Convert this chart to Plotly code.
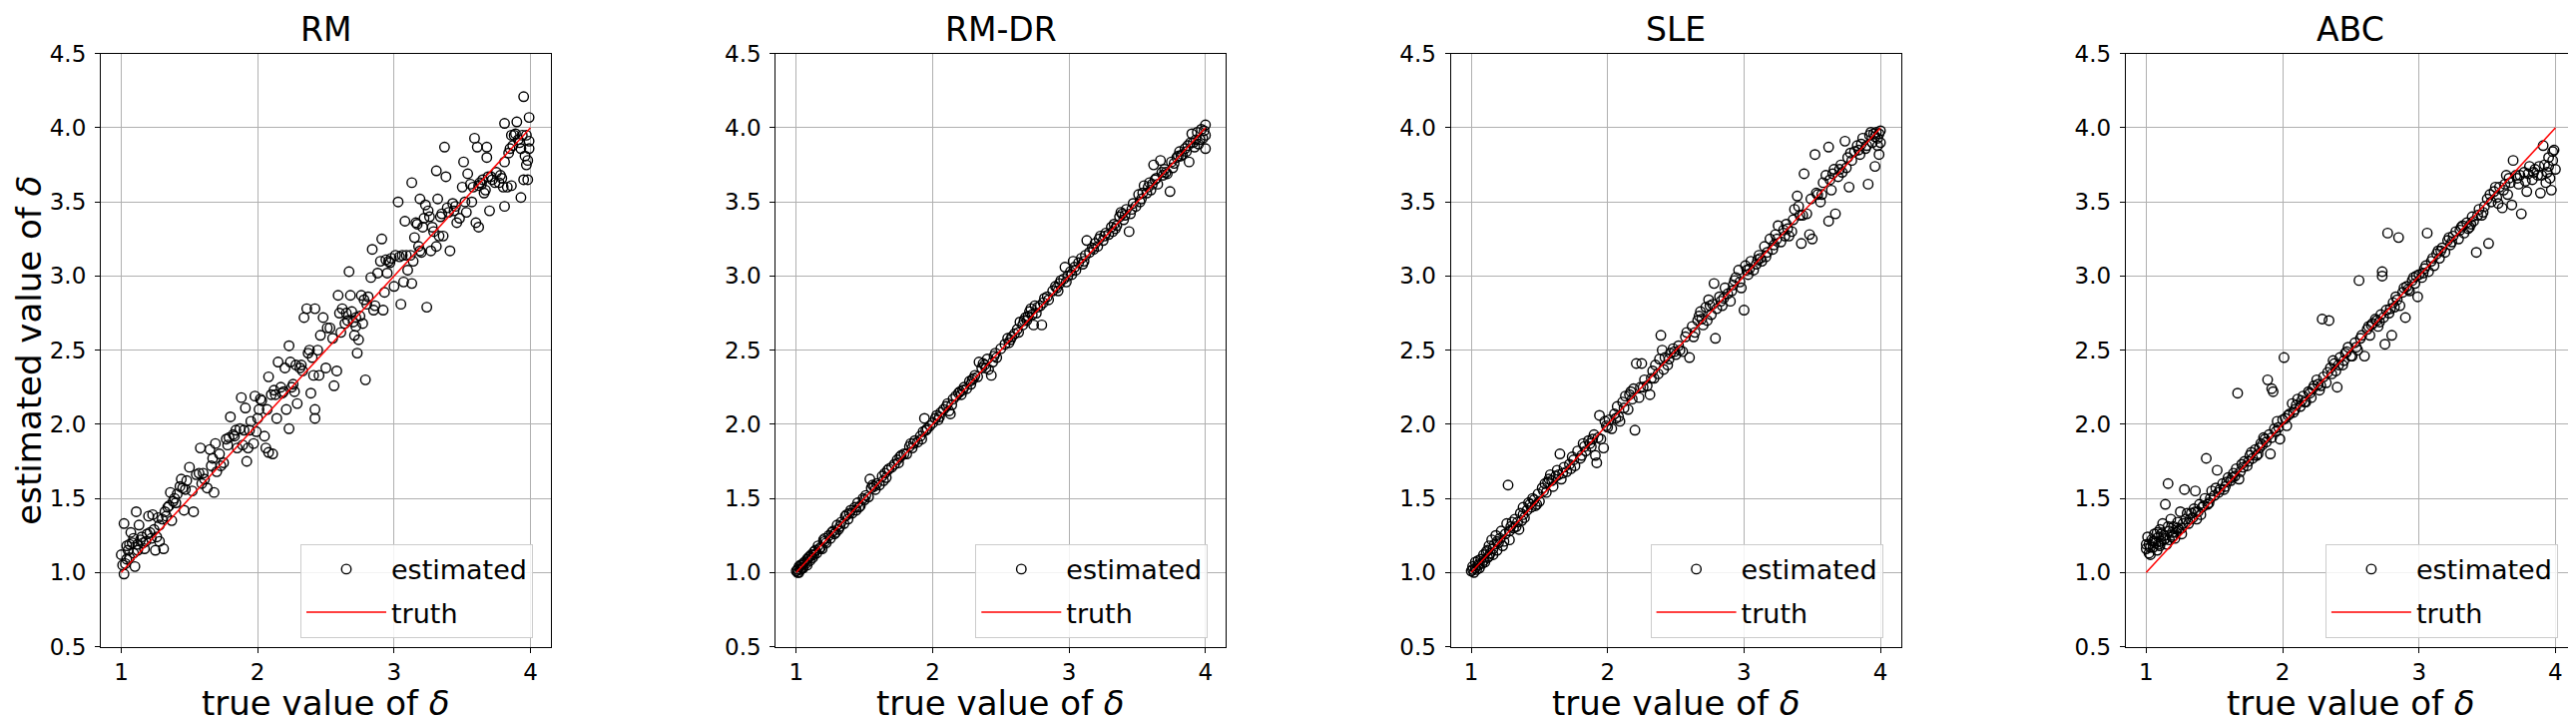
import plotly.graph_objects as go

titles = ["RM", "RM-DR", "SLE", "ABC"]
x_label = "true value of <i>δ</i>"
y_label = "estimated value of <i>δ</i>"
truth_x = [1.0, 4.0]
truth_y = [1.0, 4.0]
y_ticks = [0.5, 1.0, 1.5, 2.0, 2.5, 3.0, 3.5, 4.0, 4.5]
x_ticks = [1, 2, 3, 4]

rm_points = [
    (1.02,0.99),(1.02,1.33),(1.00,1.12),(1.04,1.18),(1.06,1.10),(1.11,1.41),(1.07,1.27),(1.10,1.04),
    (1.13,1.32),(1.14,1.22),(1.17,1.16),(1.19,1.26),(1.20,1.38),(1.23,1.39),(1.24,1.29),(1.25,1.15),
    (1.28,1.32),(1.28,1.21),(1.31,1.16),(1.32,1.41),(1.36,1.54),(1.37,1.35),(1.38,1.48),(1.41,1.53),
    (1.44,1.63),(1.46,1.42),(1.50,1.71),(1.47,1.56),(1.53,1.41),(1.55,1.66),(1.58,1.84),(1.59,1.60),
    (1.63,1.57),(1.65,1.83),(1.67,1.77),(1.68,1.54),(1.69,1.87),(1.70,1.68),(1.75,1.74),(1.77,1.90),
    (1.80,2.05),(1.82,1.93),(1.85,1.84),(1.88,2.18),(1.91,2.11),(1.92,1.75),(1.93,1.84),(1.95,2.02),
    (1.97,1.87),(1.98,2.19),(1.99,1.95),(2.01,2.10),(2.03,2.16),(2.05,1.92),(2.06,1.84),(2.08,1.81),
    (2.08,2.32),(2.11,1.80),(2.12,2.23),(2.14,2.04),(2.15,2.42),(2.18,2.21),(2.20,2.38),(2.21,2.10),
    (2.23,1.97),(2.23,2.53),(2.26,2.27),(2.29,2.14),(2.31,2.38),(2.33,2.36),(2.34,2.72),(2.36,2.78),
    (2.38,2.50),(2.39,2.21),(2.41,2.33),(2.42,2.78),(2.42,2.10),(2.42,2.04),(2.46,2.60),(2.50,2.38),
    (2.53,2.65),(2.56,2.26),(2.58,2.36),(2.59,2.87),(2.61,2.62),(2.62,2.78),(2.65,2.75),(2.67,3.03),
    (2.68,2.87),(2.70,2.69),(2.71,2.60),(2.73,2.48),(2.74,2.57),(2.76,2.87),(2.77,2.68),(2.79,2.30),
    (2.80,2.81),(2.83,2.99),(2.85,2.77),(2.86,2.80),(2.91,3.25),(2.84,3.18),(2.92,2.77),(2.93,2.89),
    (2.94,3.11),(2.95,3.02),(2.97,3.09),(3.00,2.93),(3.03,3.50),(3.04,3.13),(3.05,2.81),(3.07,2.96),
    (3.08,3.37),(3.10,3.04),(3.12,3.14),(3.13,3.63),(3.13,2.95),(3.15,3.26),(3.16,3.36),(3.19,3.52),
    (3.19,3.17),(3.21,3.33),(3.22,3.39),(3.24,2.79),(3.25,3.44),(3.27,3.17),(3.28,3.33),(3.31,3.71),
    (3.31,3.20),(3.32,3.52),(3.34,3.40),(3.36,3.27),(3.37,3.87),(3.38,3.67),(3.39,3.46),(3.41,3.17),
    (3.44,3.44),(3.46,3.36),(3.50,3.60),(3.51,3.77),(3.53,3.43),(3.54,3.69),(3.57,3.50),(3.59,3.93),
    (3.60,3.36),(3.61,3.87),(3.62,3.33),(3.62,3.61),(3.65,3.65),(3.66,3.56),(3.68,3.87),(3.68,3.80),
    (3.70,3.44),(3.72,3.65),(3.75,3.70),(3.77,3.63),(3.80,3.60),(3.81,3.47),(3.81,4.03),(3.81,3.77),
    (3.84,3.83),(3.86,3.95),(3.86,3.61),(3.89,3.96),(3.90,4.04),(3.91,3.92),(3.93,3.86),(3.93,3.53),
    (3.95,4.21),(3.95,3.65),(3.96,3.81),(3.97,3.75),(3.98,3.65),(3.99,4.07),(3.99,3.91),(3.99,3.86),
    (1.03,1.06),(1.05,1.15),(1.08,1.20),(1.09,1.13),(1.12,1.19),(1.15,1.24),(1.18,1.21),(1.21,1.27),
    (1.26,1.24),(1.30,1.36),(1.34,1.44),(1.40,1.47),(1.43,1.58),(1.48,1.62),(1.57,1.67),(1.61,1.63),
    (1.72,1.80),(1.78,1.86),(1.83,1.92),(1.87,1.97),(1.90,1.96),(2.00,2.04),(2.10,2.20),(2.17,2.25),
    (2.25,2.25),(2.28,2.40),(2.44,2.50),(2.48,2.72),(2.55,2.58),(2.64,2.68),(2.72,2.72),(2.78,2.84),
    (2.88,3.02),(2.98,3.12),(3.06,3.14),(3.18,3.20),(3.23,3.48),(3.35,3.42),(3.43,3.49),(3.48,3.39),
    (3.56,3.62),(3.64,3.62),(3.71,3.67),(3.78,3.68),(3.85,3.86),(3.88,3.95),(3.92,3.90),(3.97,3.95),
    (1.01,1.05),(1.04,1.09),(1.06,1.19),(1.09,1.23),(1.12,1.15),(1.16,1.20),(1.22,1.23),(1.27,1.37),
    (1.33,1.38),(1.35,1.45),(1.39,1.50),(1.45,1.57),(1.52,1.55),(1.60,1.67),(1.66,1.72),(1.73,1.72),
    (1.79,1.91),(1.84,1.96),(1.89,1.86),(1.94,1.96),(2.02,2.17),(2.07,2.10),(2.13,2.20),(2.19,2.22),
    (2.24,2.42),(2.27,2.22),(2.32,2.40),(2.37,2.48),(2.40,2.45),(2.45,2.33),(2.51,2.65),(2.60,2.75),
    (2.66,2.70),(2.69,2.76),(2.72,2.66),(2.75,2.73),(2.81,2.86),(2.90,3.10),(2.96,3.10),(3.01,3.14),
    (3.09,3.14),(3.14,3.10),(3.17,3.35),(3.20,3.16),(3.26,3.40),(3.29,3.30),(3.33,3.27),(3.40,3.43),
    (3.45,3.47),(3.52,3.50),(3.58,3.60),(3.63,3.63),(3.67,3.58),(3.69,3.67),(3.74,3.63),(3.79,3.66),
    (3.83,3.60),(3.87,3.88),(3.94,3.95),(3.98,3.78),
]

rmdr_points = [
    (1.00,1.01),(1.01,1.02),(1.02,1.00),(1.02,1.04),(1.03,1.02),(1.04,1.05),(1.05,1.03),(1.06,1.07),
    (1.07,1.06),(1.08,1.05),(1.09,1.10),(1.10,1.08),(1.11,1.12),(1.12,1.10),(1.14,1.15),(1.15,1.13),
    (1.16,1.18),(1.18,1.17),(1.19,1.16),(1.20,1.22),(1.22,1.20),(1.24,1.25),(1.25,1.23),(1.27,1.28),
    (1.28,1.26),(1.30,1.32),(1.31,1.29),(1.33,1.34),(1.35,1.33),(1.36,1.38),(1.38,1.36),(1.40,1.42),
    (1.41,1.40),(1.43,1.44),(1.45,1.47),(1.47,1.45),(1.49,1.50),(1.51,1.52),(1.53,1.51),(1.54,1.63),
    (1.55,1.57),(1.57,1.58),(1.59,1.60),(1.61,1.59),(1.63,1.65),(1.65,1.67),(1.66,1.64),(1.68,1.70),
    (1.70,1.71),(1.72,1.73),(1.75,1.74),(1.77,1.79),(1.79,1.80),(1.81,1.80),(1.83,1.85),(1.85,1.84),
    (1.87,1.89),(1.89,1.88),(1.91,1.92),(1.93,1.95),(1.94,2.04),(1.96,1.97),(1.98,1.99),(2.00,2.01),
    (2.02,2.04),(2.04,2.03),(2.06,2.08),(2.08,2.10),(2.10,2.12),(2.12,2.09),(2.13,2.07),(2.15,2.17),
    (2.17,2.19),(2.19,2.21),(2.21,2.20),(2.23,2.25),(2.25,2.24),(2.27,2.29),(2.29,2.30),(2.31,2.33),
    (2.33,2.32),(2.34,2.42),(2.36,2.38),(2.38,2.40),(2.40,2.44),(2.41,2.37),(2.43,2.33),(2.45,2.46),
    (2.47,2.45),(2.50,2.51),(2.53,2.54),(2.55,2.58),(2.58,2.59),(2.60,2.61),(2.62,2.64),(2.64,2.69),
    (2.66,2.67),(2.68,2.72),(2.70,2.73),(2.71,2.76),(2.73,2.74),(2.74,2.67),(2.75,2.80),(2.77,2.79),
    (2.79,2.80),(2.80,2.67),(2.82,2.85),(2.85,2.84),(2.88,2.90),(2.90,2.93),(2.92,2.90),(2.94,2.97),
    (2.96,2.98),(2.97,3.06),(2.99,3.00),(3.01,3.03),(3.03,3.10),(3.05,3.04),(3.07,3.09),(3.09,3.12),
    (3.11,3.10),(3.13,3.24),(3.15,3.16),(3.17,3.19),(3.19,3.22),(3.21,3.20),(3.23,3.27),(3.25,3.24),
    (3.27,3.29),(3.29,3.28),(3.31,3.33),(3.33,3.35),(3.35,3.34),(3.37,3.40),(3.38,3.43),(3.40,3.38),
    (3.42,3.45),(3.44,3.30),(3.45,3.42),(3.47,3.49),(3.49,3.47),(3.51,3.55),(3.53,3.52),(3.55,3.61),
    (3.57,3.56),(3.59,3.63),(3.60,3.58),(3.62,3.75),(3.63,3.65),(3.65,3.62),(3.67,3.78),(3.68,3.70),
    (3.70,3.72),(3.72,3.69),(3.74,3.57),(3.75,3.77),(3.77,3.76),(3.79,3.80),(3.81,3.84),(3.83,3.82),
    (3.85,3.86),(3.87,3.88),(3.88,3.77),(3.90,3.96),(3.91,3.90),(3.93,3.92),(3.94,3.97),(3.95,3.89),
    (3.97,3.99),(3.98,3.93),(4.00,4.02),(4.00,3.86),(4.00,3.95),
    (1.04,1.03),(1.13,1.14),(1.21,1.23),(1.29,1.27),(1.37,1.39),(1.46,1.44),(1.56,1.59),(1.64,1.62),
    (1.74,1.76),(1.84,1.87),(1.92,1.90),(2.03,2.06),(2.11,2.14),(2.20,2.22),(2.28,2.27),(2.37,2.41),
    (2.44,2.42),(2.57,2.57),(2.67,2.70),(2.72,2.78),(2.81,2.82),(2.93,2.95),(3.02,3.01),(3.12,3.14),
    (3.22,3.25),(3.32,3.30),(3.41,3.41),(3.52,3.50),(3.61,3.62),(3.71,3.70),(3.80,3.81),(3.89,3.90),
    (1.01,1.00),(1.03,1.05),(1.05,1.06),(1.08,1.09),(1.10,1.11),(1.13,1.12),(1.17,1.16),(1.21,1.21),
    (1.26,1.27),(1.32,1.31),(1.39,1.40),(1.44,1.42),(1.50,1.49),(1.58,1.56),(1.67,1.69),(1.76,1.78),
    (1.86,1.87),(1.95,1.96),(2.05,2.05),(2.14,2.13),(2.22,2.23),(2.30,2.31),(2.39,2.38),(2.46,2.48),
    (2.56,2.55),(2.63,2.62),(2.69,2.70),(2.76,2.75),(2.84,2.86),(2.91,2.92),(2.98,2.96),(3.04,3.06),
    (3.10,3.08),(3.18,3.18),(3.26,3.27),(3.34,3.32),(3.39,3.42),(3.46,3.45),(3.54,3.56),(3.58,3.60),
    (3.64,3.66),(3.69,3.68),(3.76,3.73),(3.82,3.81),(3.86,3.84),(3.92,3.87),(3.96,3.92),(3.99,3.98),
]

sle_points = [
    (1.00,1.01),(1.01,1.04),(1.02,1.00),(1.03,1.07),(1.04,1.02),(1.05,1.05),(1.06,1.03),(1.07,1.09),
    (1.08,1.06),(1.09,1.12),(1.10,1.07),(1.11,1.14),(1.12,1.10),(1.13,1.18),(1.14,1.13),(1.15,1.22),
    (1.16,1.12),(1.17,1.19),(1.18,1.25),(1.19,1.15),(1.21,1.23),(1.22,1.28),(1.23,1.18),(1.25,1.26),
    (1.26,1.33),(1.27,1.59),(1.28,1.22),(1.29,1.31),(1.31,1.30),(1.32,1.36),(1.34,1.34),(1.35,1.29),
    (1.36,1.40),(1.38,1.44),(1.39,1.37),(1.41,1.42),(1.42,1.47),(1.44,1.44),(1.45,1.50),(1.47,1.45),
    (1.49,1.53),(1.50,1.48),(1.52,1.57),(1.54,1.60),(1.55,1.54),(1.57,1.63),(1.58,1.66),(1.60,1.58),
    (1.62,1.65),(1.63,1.69),(1.65,1.80),(1.66,1.63),(1.68,1.71),(1.70,1.68),(1.72,1.73),(1.74,1.78),
    (1.76,1.72),(1.78,1.82),(1.80,1.77),(1.82,1.87),(1.84,1.82),(1.86,1.89),(1.88,1.85),(1.90,1.93),
    (1.91,1.79),(1.92,1.74),(1.94,2.06),(1.95,1.90),(1.97,1.84),(1.99,1.99),(2.01,2.03),(2.03,1.97),
    (2.05,2.07),(2.07,2.12),(2.09,2.02),(2.11,2.15),(2.13,2.19),(2.15,2.10),(2.17,2.22),(2.19,2.24),
    (2.20,1.96),(2.21,2.41),(2.23,2.18),(2.25,2.41),(2.27,2.30),(2.29,2.26),(2.31,2.20),(2.33,2.36),
    (2.35,2.40),(2.37,2.34),(2.39,2.60),(2.40,2.50),(2.42,2.45),(2.44,2.40),(2.46,2.48),(2.48,2.51),
    (2.50,2.47),(2.52,2.53),(2.55,2.49),(2.57,2.59),(2.60,2.45),(2.62,2.66),(2.64,2.62),(2.66,2.70),
    (2.68,2.76),(2.70,2.67),(2.72,2.79),(2.74,2.84),(2.76,2.74),(2.78,2.95),(2.79,2.58),(2.80,2.78),
    (2.82,2.86),(2.84,2.80),(2.86,2.92),(2.88,2.88),(2.90,2.83),(2.92,2.94),(2.94,2.99),(2.96,3.04),
    (2.98,2.92),(3.00,2.77),(3.01,3.07),(3.03,3.01),(3.05,3.10),(3.07,3.04),(3.09,3.08),(3.11,3.14),
    (3.13,3.10),(3.15,3.20),(3.17,3.16),(3.19,3.25),(3.21,3.18),(3.23,3.28),(3.25,3.34),(3.27,3.23),
    (3.29,3.31),(3.31,3.35),(3.33,3.27),(3.35,3.30),(3.37,3.45),(3.39,3.54),(3.40,3.47),(3.42,3.22),
    (3.44,3.69),(3.46,3.42),(3.48,3.28),(3.50,3.25),(3.52,3.82),(3.54,3.55),(3.56,3.50),(3.58,3.63),
    (3.60,3.68),(3.62,3.87),(3.62,3.37),(3.64,3.58),(3.66,3.72),(3.67,3.42),(3.69,3.67),(3.71,3.75),
    (3.72,3.70),(3.74,3.91),(3.76,3.80),(3.77,3.60),(3.79,3.78),(3.81,3.84),(3.83,3.88),(3.85,3.82),
    (3.87,3.93),(3.89,3.86),(3.91,3.62),(3.92,3.95),(3.94,3.90),(3.96,3.74),(3.97,3.97),(3.98,3.93),
    (3.99,3.82),(4.00,3.98),(4.00,3.90),
    (1.05,1.08),(1.13,1.11),(1.20,1.20),(1.30,1.34),(1.37,1.35),(1.46,1.49),(1.56,1.61),(1.64,1.66),
    (1.73,1.70),(1.83,1.85),(1.89,1.90),(1.98,2.02),(2.08,2.05),(2.16,2.20),(2.24,2.25),(2.32,2.31),
    (2.41,2.37),(2.49,2.49),(2.58,2.62),(2.67,2.73),(2.75,2.80),(2.83,2.83),(2.93,2.97),(3.02,3.04),
    (3.12,3.12),(3.22,3.21),(3.32,3.32),(3.41,3.41),(3.53,3.56),(3.63,3.65),(3.75,3.73),(3.86,3.89),
    (3.93,3.97),(3.96,3.94),(3.99,3.96),
    (1.01,1.02),(1.03,1.03),(1.06,1.06),(1.09,1.08),(1.12,1.15),(1.16,1.16),(1.19,1.21),(1.24,1.21),
    (1.28,1.28),(1.33,1.31),(1.38,1.39),(1.43,1.46),(1.48,1.46),(1.53,1.55),(1.59,1.62),(1.67,1.67),
    (1.75,1.76),(1.81,1.79),(1.87,1.87),(1.93,1.91),(2.00,1.98),(2.06,2.04),(2.12,2.11),(2.18,2.17),
    (2.26,2.25),(2.34,2.31),(2.38,2.44),(2.45,2.44),(2.53,2.50),(2.63,2.59),(2.69,2.71),(2.73,2.70),
    (2.77,2.81),(2.85,2.85),(2.91,2.90),(2.97,2.96),(3.04,3.05),(3.10,3.11),(3.16,3.13),(3.24,3.25),
    (3.30,3.27),(3.36,3.38),(3.43,3.41),(3.49,3.52),(3.57,3.55),(3.65,3.69),(3.70,3.72),(3.78,3.83),
    (3.84,3.85),(3.90,3.88),(3.95,3.96),(3.98,3.88),
]

abc_points = [
    (1.00,1.16),(1.01,1.24),(1.02,1.19),(1.03,1.12),(1.04,1.22),(1.05,1.17),(1.06,1.26),(1.07,1.20),
    (1.08,1.15),(1.09,1.24),(1.10,1.29),(1.11,1.21),(1.12,1.33),(1.13,1.25),(1.14,1.46),(1.15,1.19),
    (1.16,1.60),(1.17,1.28),(1.18,1.36),(1.19,1.24),(1.20,1.31),(1.22,1.27),(1.23,1.34),(1.25,1.41),
    (1.26,1.30),(1.28,1.56),(1.29,1.36),(1.31,1.33),(1.33,1.40),(1.35,1.43),(1.36,1.55),(1.37,1.36),
    (1.39,1.46),(1.41,1.44),(1.43,1.50),(1.44,1.77),(1.46,1.47),(1.48,1.55),(1.50,1.52),(1.52,1.69),
    (1.54,1.56),(1.56,1.60),(1.58,1.58),(1.60,1.64),(1.62,1.62),(1.64,1.67),(1.66,1.70),(1.67,2.21),
    (1.68,1.63),(1.70,1.73),(1.72,1.75),(1.74,1.72),(1.76,1.79),(1.78,1.77),(1.80,1.83),(1.82,1.80),
    (1.84,1.87),(1.86,1.91),(1.88,1.88),(1.89,2.30),(1.90,1.93),(1.91,1.80),(1.92,2.24),(1.93,2.22),
    (1.94,1.97),(1.96,2.02),(1.98,1.90),(2.00,2.03),(2.01,2.45),(2.03,1.99),(2.05,2.07),(2.07,2.14),
    (2.09,2.10),(2.11,2.17),(2.13,2.12),(2.15,2.19),(2.17,2.15),(2.19,2.22),(2.21,2.18),(2.23,2.26),
    (2.25,2.30),(2.27,2.23),(2.29,2.71),(2.30,2.32),(2.32,2.28),(2.34,2.70),(2.35,2.38),(2.37,2.43),
    (2.39,2.36),(2.40,2.25),(2.42,2.45),(2.44,2.40),(2.46,2.48),(2.48,2.52),(2.50,2.46),(2.51,2.46),
    (2.53,2.55),(2.55,2.50),(2.56,2.97),(2.58,2.60),(2.60,2.46),(2.62,2.64),(2.64,2.60),(2.66,2.68),
    (2.68,2.71),(2.70,2.66),(2.72,2.74),(2.73,3.03),(2.73,3.00),(2.75,2.54),(2.76,2.77),(2.77,3.29),
    (2.78,2.75),(2.80,2.60),(2.81,2.82),(2.83,2.86),(2.85,3.26),(2.86,2.80),(2.88,2.89),(2.90,2.72),
    (2.91,2.93),(2.93,2.90),(2.95,2.97),(2.97,2.95),(2.99,2.86),(3.00,3.01),(3.02,2.99),(3.04,3.05),
    (3.06,3.29),(3.07,3.03),(3.09,3.10),(3.11,3.07),(3.13,3.15),(3.15,3.12),(3.17,3.19),(3.19,3.16),
    (3.21,3.24),(3.23,3.21),(3.25,3.27),(3.27,3.30),(3.29,3.25),(3.31,3.33),(3.33,3.29),(3.35,3.36),
    (3.37,3.33),(3.39,3.40),(3.40,3.37),(3.42,3.16),(3.44,3.45),(3.46,3.41),(3.48,3.47),(3.50,3.52),
    (3.51,3.22),(3.53,3.50),(3.55,3.57),(3.57,3.53),(3.59,3.60),(3.61,3.46),(3.63,3.62),(3.65,3.55),
    (3.66,3.66),(3.68,3.48),(3.69,3.78),(3.71,3.68),(3.73,3.62),(3.75,3.42),(3.77,3.70),(3.79,3.57),
    (3.81,3.74),(3.83,3.65),(3.85,3.72),(3.87,3.68),(3.89,3.56),(3.91,3.88),(3.92,3.75),(3.93,3.63),
    (3.95,3.80),(3.96,3.66),(3.97,3.58),(3.98,3.84),(3.99,3.85),(4.00,3.72),
    (1.02,1.13),(1.05,1.21),(1.08,1.27),(1.10,1.18),(1.13,1.22),(1.16,1.31),(1.19,1.27),(1.21,1.23),
    (1.24,1.29),(1.27,1.33),(1.30,1.40),(1.34,1.37),(1.38,1.41),(1.42,1.45),(1.47,1.50),(1.53,1.54),
    (1.59,1.61),(1.65,1.65),(1.71,1.71),(1.77,1.81),(1.83,1.84),(1.87,1.90),(1.95,1.95),(2.02,2.04),
    (2.08,2.08),(2.14,2.16),(2.20,2.21),(2.26,2.27),(2.33,2.35),(2.38,2.41),(2.45,2.43),(2.54,2.52),
    (2.63,2.66),(2.69,2.70),(2.74,2.72),(2.82,2.79),(2.89,2.92),(2.96,2.99),(3.05,3.07),(3.14,3.17),
    (3.22,3.26),(3.30,3.31),(3.38,3.35),(3.47,3.43),(3.56,3.60),(3.64,3.68),(3.72,3.66),(3.80,3.69),
    (3.88,3.74),(3.94,3.70),
    (1.00,1.19),(1.03,1.17),(1.06,1.21),(1.09,1.19),(1.11,1.26),(1.14,1.23),(1.17,1.22),(1.20,1.25),
    (1.23,1.30),(1.26,1.26),(1.32,1.36),(1.36,1.41),(1.40,1.39),(1.45,1.46),(1.51,1.57),(1.57,1.56),
    (1.63,1.64),(1.69,1.68),(1.75,1.75),(1.81,1.79),(1.85,1.86),(1.92,1.91),(1.97,1.98),(2.04,2.06),
    (2.10,2.13),(2.16,2.15),(2.22,2.24),(2.28,2.26),(2.36,2.34),(2.41,2.40),(2.47,2.49),(2.57,2.58),
    (2.65,2.67),(2.71,2.69),(2.79,2.78),(2.84,2.84),(2.92,2.91),(2.98,3.00),(3.03,3.02),(3.10,3.12),
    (3.16,3.17),(3.24,3.23),(3.32,3.34),(3.36,3.32),(3.43,3.41),(3.52,3.55),(3.58,3.49),(3.62,3.58),
    (3.67,3.63),(3.74,3.68),(3.78,3.64),(3.84,3.70),(3.90,3.68),(3.95,3.74),(3.98,3.78),
]

panels = [rm_points, rmdr_points, sle_points, abc_points]

W, H = 2581, 720
ax_left0, ax_period, ax_width = 93.0, 676.3, 451.0
ax_top, ax_bottom = 34.0, 650.0
y0 = (H - ax_bottom) / H
y1 = (H - ax_top) / H

FONT = "DejaVu Sans"
fig = go.Figure()
annotations = []
legend_names = ["legend", "legend2", "legend3", "legend4"]

for i, (title, pts) in enumerate(zip(titles, panels)):
    xa = "x" if i == 0 else f"x{i+1}"
    ya = "y" if i == 0 else f"y{i+1}"
    lg = legend_names[i]
    xs = [p[0] for p in pts]
    ys = [p[1] for p in pts]
    fig.add_trace(go.Scatter(
        x=xs, y=ys, mode="markers", name="estimated", xaxis=xa, yaxis=ya, legend=lg,
        legendgroup=f"est{i}",
        marker=dict(symbol="circle-open", size=9.5, color="black", line=dict(width=1.4, color="black")),
    ))
    fig.add_trace(go.Scatter(
        x=truth_x, y=truth_y, mode="lines", name="truth", xaxis=xa, yaxis=ya, legend=lg,
        legendgroup=f"tru{i}",
        line=dict(color="red", width=1.5),
    ))
    left = ax_left0 + ax_period * i
    right = left + ax_width
    d0, d1 = left / W, right / W
    axis_common = dict(
        showline=True, mirror=True, linecolor="black", linewidth=1.2,
        showgrid=True, gridcolor="#b0b0b0", gridwidth=1.2, zeroline=False,
        ticks="outside", ticklen=5, tickwidth=1.2, tickcolor="black",
        tickfont=dict(family=FONT, size=23, color="black"),
    )
    xkey = "xaxis" if i == 0 else f"xaxis{i+1}"
    ykey = "yaxis" if i == 0 else f"yaxis{i+1}"
    fig.update_layout(**{
        xkey: dict(domain=[d0, d1], range=[0.85, 4.15], tickvals=x_ticks, anchor=ya,
                   ticklabelstandoff=0, **axis_common),
        ykey: dict(domain=[y0, y1], range=[0.5, 4.5], tickvals=y_ticks, tickformat=".1f", anchor=xa,
                   ticklabelstandoff=4, **axis_common),
    })
    fig.update_layout(**{lg: dict(
        x=(right - 18) / W, y=y0 + 9 / H, xanchor="right", yanchor="bottom",
        xref="paper", yref="paper",
        bgcolor="rgba(255,255,255,0.85)", bordercolor="#cccccc", borderwidth=1,
        font=dict(family=FONT, size=27, color="black"), itemwidth=80,
        tracegroupgap=5,
    )})
    cx = (d0 + d1) / 2
    annotations.append(dict(text=title, x=cx, y=y1, xref="paper", yref="paper",
                            xanchor="center", yanchor="bottom", yshift=3, showarrow=False,
                            font=dict(family=FONT, size=33, color="black")))
    annotations.append(dict(text=x_label, x=cx, y=0, xref="paper", yref="paper",
                            xanchor="center", yanchor="bottom", yshift=-11, showarrow=False,
                            font=dict(family=FONT, size=34, color="black")))

annotations.append(dict(text=y_label, x=21 / W, y=(y0 + y1) / 2, xref="paper", yref="paper",
                        xanchor="center", yanchor="middle", textangle=-90, showarrow=False,
                        font=dict(family=FONT, size=34, color="black")))

fig.update_layout(
    width=W, height=H, margin=dict(l=0, r=0, t=0, b=0),
    paper_bgcolor="white", plot_bgcolor="white",
    annotations=annotations, showlegend=True,
    font=dict(family=FONT, color="black"),
)

fig.write_html("out.html")
